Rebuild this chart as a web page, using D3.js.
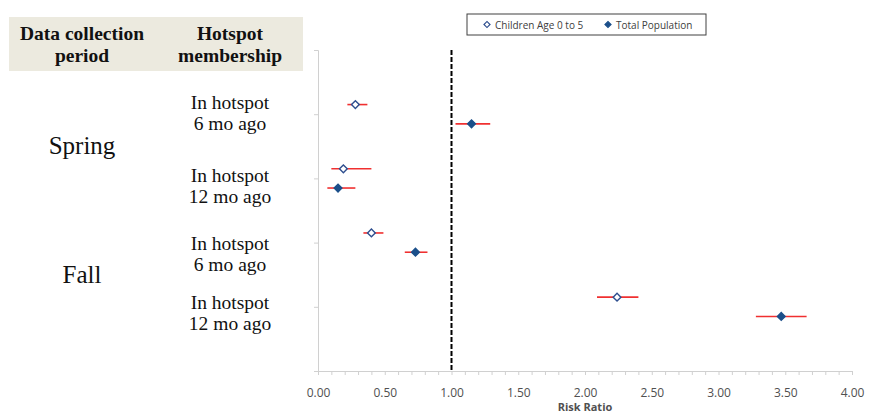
<!DOCTYPE html>
<html>
<head>
<meta charset="utf-8">
<script src="https://cdn.jsdelivr.net/npm/d3@7"></script>
<style>
  body { margin: 0; background: #fff; }
  svg { display: block; }
</style>
</head>
<body>
<div id="chart"></div>
<script>
// row labels, top to bottom
var periods = ["Spring", "Fall"];
var rows = [
  {period: "Spring", label: ["In hotspot", "6 mo ago"]},
  {period: "Spring", label: ["In hotspot", "12 mo ago"]},
  {period: "Fall", label: ["In hotspot", "6 mo ago"]},
  {period: "Fall", label: ["In hotspot", "12 mo ago"]}
];
var series = ["Children Age 0 to 5", "Total Population"];
// risk ratio estimate with lower / upper CI, one per row
var childRR = [0.28, 0.19, 0.40, 2.24];
var childLo = [0.22, 0.10, 0.34, 2.09];
var childHi = [0.37, 0.40, 0.49, 2.40];
var totalRR = [1.15, 0.15, 0.73, 3.47];
var totalLo = [1.03, 0.07, 0.65, 3.28];
var totalHi = [1.29, 0.28, 0.82, 3.66];
var xTicks = [0, 0.5, 1, 1.5, 2, 2.5, 3, 3.5, 4];
var refLine = 1;

var margin = {top: 50, right: 18, bottom: 44, left: 318}
  , width = 870 - margin.left - margin.right
  , height = 415 - margin.top - margin.bottom;

var xScale = d3.scaleLinear().domain([0, 4]).range([0, width]);
var yScale = d3.scaleLinear().domain([0, 5]).range([height, 0]);
var off = 0.15;
var labelShift = [3, 12, 15, 10]; // text boxes in the original sit a bit off the rows

var svg = d3.select("#chart").append("svg")
    .attr("width", 870).attr("height", 415);

// header table
svg.append("rect").attr("x", 9).attr("y", 17).attr("width", 294).attr("height", 54)
    .style("fill", "#ECEADF");
var hdr = svg.append("g").style("font-family", "'Liberation Serif', serif")
    .style("font-weight", "bold").style("font-size", "19.5px").attr("text-anchor", "middle")
    .style("fill", "#111");
hdr.append("text").attr("x", 82).attr("y", 40).text("Data collection");
hdr.append("text").attr("x", 82).attr("y", 62).text("period");
hdr.append("text").attr("x", 230).attr("y", 40).text("Hotspot");
hdr.append("text").attr("x", 230).attr("y", 62).text("membership");

var g = svg.append("g").attr("transform", "translate(" + margin.left + "," + margin.top + ")");

// row labels
var rowPos = function(i) { return yScale(4 - i); };
var lab = g.append("g").style("font-family", "'Liberation Serif', serif")
    .style("font-size", "19.5px").attr("text-anchor", "middle").style("fill", "#111");
rows.forEach(function(r, i) {
  var t = lab.append("text").attr("x", 230 - margin.left).attr("y", rowPos(i) - 8 + labelShift[i]);
  t.append("tspan").attr("x", 230 - margin.left).text(r.label[0]);
  t.append("tspan").attr("x", 230 - margin.left).attr("dy", 21).text(r.label[1]);
});
periods.forEach(function(p) {
  var idx = rows.map(function(r, i) { return r.period == p ? i : -1; }).filter(function(i) { return i >= 0; });
  var yc = (rowPos(idx[0]) + rowPos(idx[idx.length - 1])) / 2;
  lab.append("text").attr("x", 82 - margin.left).attr("y", yc + 8)
      .style("font-size", "25px").text(p);
});

// axes
var xAxis = g.append("g").attr("transform", "translate(0," + height + ")")
    .call(d3.axisBottom(xScale).tickValues(d3.range(0, 4.01, 0.1)).tickSize(4)
      .tickFormat(function(d) { return xTicks.some(function(t) { return Math.abs(t - d) < 1e-6; }) ? d3.format(".2f")(d) : ""; }));
xAxis.select(".domain").attr("stroke", "#d0d0d0");
xAxis.selectAll(".tick line").attr("stroke", "#d0d0d0");
xAxis.selectAll("text").attr("dy", "1.55em").style("font-family", "'Open Sans', sans-serif")
    .style("font-size", "12px").style("fill", "#505050");

var yAxis = g.append("g")
    .call(d3.axisLeft(yScale).ticks(5).tickSize(4).tickFormat(""));
yAxis.select(".domain").attr("stroke", "#d0d0d0");
yAxis.selectAll(".tick line").attr("stroke", "#d0d0d0");

g.append("text").attr("x", width / 2).attr("y", height + 40).attr("text-anchor", "middle")
    .style("font-family", "'Open Sans', sans-serif").style("font-weight", "bold")
    .style("font-size", "11px").style("fill", "#505050").text("Risk Ratio");

// reference line
g.append("line").attr("x1", xScale(refLine)).attr("x2", xScale(refLine))
    .attr("y1", 0).attr("y2", height)
    .attr("stroke", "#000").attr("stroke-width", 2).attr("stroke-dasharray", "5,2");

var diamond = d3.symbol().type(d3.symbolSquare).size(30);

function drawSeries(rr, lo, hi, dy, filled) {
  var s = g.append("g");
  s.selectAll("line").data(rr).enter().append("line")
      .attr("x1", function(d, i) { return xScale(lo[i]); })
      .attr("x2", function(d, i) { return xScale(hi[i]); })
      .attr("y1", function(d, i) { return yScale(4 - i + dy); })
      .attr("y2", function(d, i) { return yScale(4 - i + dy); })
      .attr("stroke", "#F03030").attr("stroke-width", 1.6);
  s.selectAll("path").data(rr).enter().append("path")
      .attr("d", diamond)
      .attr("transform", function(d, i) { return "translate(" + xScale(d) + "," + yScale(4 - i + dy) + ") rotate(45)"; })
      .style("fill", filled ? "#1B4F8A" : "#fff")
      .style("stroke", filled ? "#1B4F8A" : "#2F4F8F").style("stroke-width", 1.4);
}
drawSeries(childRR, childLo, childHi, off, false);
drawSeries(totalRR, totalLo, totalHi, -off, true);

// legend
var leg = svg.append("g").attr("transform", "translate(467,14)");
leg.append("rect").attr("width", 239).attr("height", 21)
    .style("fill", "#fff").style("stroke", "#404040").style("stroke-width", 1);
series.forEach(function(name, i) {
  var lx = i == 0 ? 20 : 141;
  leg.append("path").attr("d", d3.symbol().type(d3.symbolSquare).size(18))
      .attr("transform", "translate(" + lx + ",10.5) rotate(45)")
      .style("fill", i == 0 ? "#fff" : "#1B4F8A").style("stroke", i == 0 ? "#2F4F8F" : "#1B4F8A")
      .style("stroke-width", 1.2);
  leg.append("text").attr("x", lx + 8).attr("y", 14.5)
      .style("font-family", "'Open Sans', sans-serif").style("font-size", "10px")
      .style("fill", "#404040").text(name);
});
</script>
</body>
</html>
